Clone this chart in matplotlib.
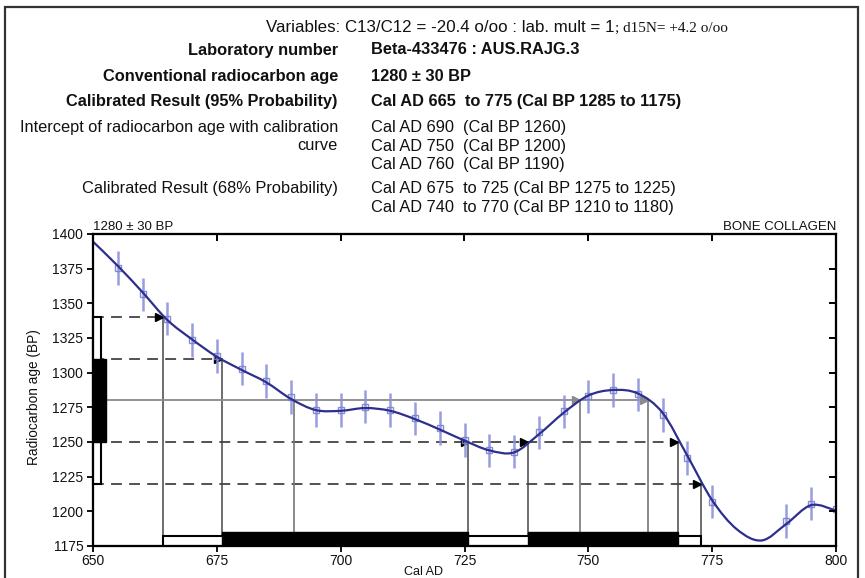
import matplotlib
matplotlib.use("Agg")
import matplotlib.pyplot as plt
from matplotlib.path import Path
from matplotlib.patches import PathPatch, Rectangle
import numpy as np

plt.rcParams['font.family'] = ['Liberation Sans', 'DejaVu Sans']

# ---------------- data ----------------
point_years = [655, 660, 665, 670, 675, 680, 685, 690, 695, 700, 705, 710, 715, 720,
               725, 730, 735, 740, 745, 750, 755, 760, 765, 770, 775, 790, 795, 800]
point_bp = [1375.5, 1356.5, 1339, 1323.5, 1312, 1303, 1294, 1282.5, 1273, 1273, 1275.5,
            1273, 1267, 1260, 1251.5, 1244, 1243, 1257, 1272, 1283, 1287.5, 1284.5,
            1269.5, 1238.5, 1207, 1193, 1205.5, 1201.5]
point_err = [12] * len(point_years)

curve_years = [650, 655, 660, 665, 670, 675, 680, 685, 690, 695, 700, 705, 710, 715, 720,
               725, 730, 735, 740, 745, 750, 755, 760, 765, 770, 775, 780, 785, 790, 795, 800]
curve_bp = [1394.5, 1377, 1358, 1338, 1324, 1311.5, 1302, 1293, 1281, 1273, 1272.5, 1274.5,
            1272.5, 1266.5, 1259, 1251, 1244, 1242.5, 1255.5, 1271, 1283.5, 1287.5, 1285,
            1271, 1240, 1208, 1187, 1179, 1191, 1204.5, 1200.5]

conv_age = 1280
sigma1 = [1250, 1310]          # 68% band on the age axis
sigma2 = [1220, 1340]          # 95% band on the age axis
intercepts_1340 = [664.2]
intercepts_1310 = [676.0]
intercepts_1250 = [725.8, 737.8, 768.1]
intercepts_1220 = [772.8]
intercepts_1280 = [690.6, 748.3, 762.0]
range95 = [(664.2, 772.8)]
range68 = [(676.0, 725.8), (737.8, 768.1)]

y_ticks = [1175, 1200, 1225, 1250, 1275, 1300, 1325, 1350, 1375, 1400]
x_ticks = [650, 675, 700, 725, 750, 775, 800]

left_labels = [
    ("Laboratory number", True),
    ("Conventional radiocarbon age", True),
    ("Calibrated Result (95% Probability)", True),
    ("Intercept of radiocarbon age with calibration", False),
    ("curve", False),
    ("", False),
    ("Calibrated Result (68% Probability)", False),
    ("", False),
]
right_labels = [
    ("Beta-433476 : AUS.RAJG.3", True),
    ("1280 \u00b1 30 BP", True),
    ("Cal AD 665  to 775 (Cal BP 1285 to 1175)", True),
    ("Cal AD 690  (Cal BP 1260)", False),
    ("Cal AD 750  (Cal BP 1200)", False),
    ("Cal AD 760  (Cal BP 1190)", False),
    ("Cal AD 675  to 725 (Cal BP 1275 to 1225)", False),
    ("Cal AD 740  to 770 (Cal BP 1210 to 1180)", False),
]
row_y_px = [50, 77, 101.5, 127.5, 146, 164.5, 188, 207.5]

# ---------------- figure ----------------
W, H = 865, 578
fig = plt.figure(figsize=(W / 100, H / 100), dpi=100)

def fx(px):
    return px / W

def fy(py):
    return 1 - py / H

# outer frame
fig.patches.append(Rectangle((fx(5), fy(585)), fx(858) - fx(5), fy(7) - fy(585),
                             transform=fig.transFigure, fill=False,
                             edgecolor='#333333', lw=1.6))

fig.text(fx(614), fy(28), "Variables: C13/C12 = -20.4 o/oo : lab. mult = 1",
         ha='right', va='center', fontsize=12.2, color='#111111')
fig.text(fx(615), fy(28.5), "; d15N= +4.2 o/oo", ha='left', va='center', fontsize=11,
         color='#111111', family=['Liberation Serif', 'DejaVu Serif'])

HDR = 11.8
for (txt, b), yp in zip(left_labels, row_y_px):
    if txt:
        fig.text(fx(338), fy(yp), txt, ha='right', va='center', fontsize=HDR,
                 fontweight='bold' if b else 'normal', color='#111111')
for (txt, b), yp in zip(right_labels, row_y_px):
    fig.text(fx(371), fy(yp), txt, ha='left', va='center', fontsize=HDR,
             fontweight='bold' if b else 'normal', color='#111111')

ax = fig.add_axes([fx(93), fy(546), fx(836) - fx(93), fy(234) - fy(546)])
ax.set_xlim(650, 800)
ax.set_ylim(1175, 1400)

# dashed intercept lines
dash_kw = dict(color='#444444', lw=1.3, dashes=(6, 4), zorder=2)
vert_kw = dict(color='#555555', lw=1.2, zorder=2)
for level, ints in [(1340, intercepts_1340), (1310, intercepts_1310),
                    (1250, intercepts_1250), (1220, intercepts_1220)]:
    ax.plot([650, max(ints)], [level, level], **dash_kw)
    for xi in ints:
        ax.plot([xi, xi], [1175, level], **vert_kw)
        ax.plot([xi - 0.8], [level], marker='>', color='black', ms=6, zorder=4)

# conventional age line
ax.plot([650, max(intercepts_1280)], [conv_age, conv_age], color='#8a8a8a', lw=1.3, zorder=2)
for xi in intercepts_1280:
    ax.plot([xi, xi], [1175, conv_age], color='#777777', lw=1.2, zorder=2)
for xi in intercepts_1280[1:]:
    ax.plot([xi - 0.8], [conv_age], marker='>', color='#8a8a8a', ms=6, zorder=3)

# calibration curve (Catmull-Rom through curve knots, drawn as bezier path)
cx = np.array(curve_years, float)
cy = np.array(curve_bp, float)
verts = [(cx[0], cy[0])]
codes = [Path.MOVETO]
n = len(cx)
for i in range(n - 1):
    p0 = np.array([cx[max(i - 1, 0)], cy[max(i - 1, 0)]])
    p1 = np.array([cx[i], cy[i]])
    p2 = np.array([cx[i + 1], cy[i + 1]])
    p3 = np.array([cx[min(i + 2, n - 1)], cy[min(i + 2, n - 1)]])
    c1 = p1 + (p2 - p0) / 6.0
    c2 = p2 - (p3 - p1) / 6.0
    verts += [tuple(c1), tuple(c2), tuple(p2)]
    codes += [Path.CURVE4, Path.CURVE4, Path.CURVE4]
ax.add_patch(PathPatch(Path(verts, codes), fill=False, edgecolor='#2d2f8c', lw=1.6, zorder=5,
                       clip_on=True))

# data points with error bars
ax.errorbar(point_years, point_bp, yerr=point_err, fmt='s', ms=4.5, mfc='none',
            mec='#7b80d0', mew=1.0, ecolor='#8d92dc', elinewidth=1.8, capsize=0,
            zorder=4, alpha=0.9)

# probability bars on the age axis
ax.bar(650, sigma2[1] - sigma2[0], width=1.6, bottom=sigma2[0], align='edge',
       facecolor='white', edgecolor='black', lw=1.5, zorder=6, clip_on=False)
ax.bar(650, sigma1[1] - sigma1[0], width=2.6, bottom=sigma1[0], align='edge',
       facecolor='black', edgecolor='black', lw=1.0, zorder=7, clip_on=False)

# probability bars on the calendar axis
for a, b in range95:
    ax.bar(a, 7.3, width=b - a, bottom=1175, align='edge', facecolor='white',
           edgecolor='black', lw=1.5, zorder=6)
for a, b in range68:
    ax.bar(a, 10.2, width=b - a, bottom=1175, align='edge', facecolor='black',
           edgecolor='black', lw=1.0, zorder=7)

# axes styling
for s in ax.spines.values():
    s.set_linewidth(1.5)
    s.set_color('#111111')
ax.set_yticks(y_ticks)
ax.set_xticks(x_ticks)
ax.tick_params(axis='both', direction='out', length=4, width=1.4, labelsize=10,
               colors='#111111', pad=3)
ax.tick_params(axis='x', pad=2)

axr = ax.twinx()
axr.set_ylim(ax.get_ylim())
axr.set_yticks(y_ticks[1:-1])
axr.tick_params(axis='y', direction='in', length=5, width=1.4, labelright=False)
axt = ax.twiny()
axt.set_xlim(ax.get_xlim())
axt.set_xticks(x_ticks[1:-1])
axt.tick_params(axis='x', direction='in', length=5, width=1.4, labeltop=False)
for a_ in (axr, axt):
    for s in a_.spines.values():
        s.set_linewidth(1.5)

ax.set_ylabel("Radiocarbon age (BP)", fontsize=9.8, color='#111111')
ax.yaxis.set_label_coords(-0.07, 0.478)
ax.set_xlabel("Cal AD", fontsize=9, color='#111111')
ax.xaxis.set_label_coords(0.445, -0.063)

ax.text(0.0, 1.004, "1280 \u00b1 30 BP", transform=ax.transAxes, ha='left', va='bottom',
        fontsize=9.5, color='#111111')
ax.text(1.0, 1.004, "BONE COLLAGEN", transform=ax.transAxes, ha='right', va='bottom',
        fontsize=9.5, color='#111111')

fig.savefig("out.png", dpi=100)
